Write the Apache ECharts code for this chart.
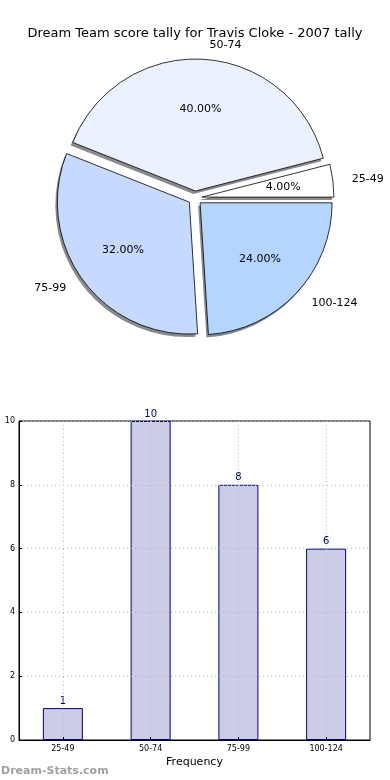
<!DOCTYPE html>
<html>
<head>
<meta charset="utf-8">
<script src="https://cdn.jsdelivr.net/npm/echarts@6/dist/echarts.min.js"></script>
<style>html,body{margin:0;padding:0;background:#fff}#c{width:390px;height:780px}</style>
</head>
<body>
<div id="c"></div>
<script>
const categories = ['25-49', '50-74', '75-99', '100-124'];
const tallyCounts = [1, 10, 8, 6];
const pieColors = ['#ffffff', '#eaf2ff', '#c6d9ff', '#b3d5ff'];
const yTicks = [0, 2, 4, 6, 8, 10];

const chart = echarts.init(document.getElementById('c'), null, {renderer: 'canvas'});
const font = 'DejaVu Sans';
const pct = p => p.percent.toFixed(2) + '%';
const R = 132;

const pieBase = {
  type: 'pie',
  center: [195, 198],
  startAngle: 0,
  clockwise: false,
  selectedMode: 'multiple',
  selectedOffset: 7,
  avoidLabelOverlap: false,
  emphasis: {disabled: true},
  animation: false
};

chart.setOption({
  animation: false,
  textStyle: {fontFamily: font},
  title: [
    {text: 'Dream Team score tally for Travis Cloke - 2007 tally', left: 'center', top: 22,
     textStyle: {fontSize: 13, fontWeight: 'normal', color: '#000', fontFamily: font}},
    {text: 'Dream-Stats.com', left: -4, top: 761,
     textStyle: {fontSize: 11, fontWeight: 'bold', color: '#a0a0a0', fontFamily: font}}
  ],
  grid: {left: 19, right: 20, top: 421, bottom: 40, show: true, borderColor: '#000', borderWidth: 1, containLabel: false},
  xAxis: {
    type: 'category', data: categories, z: 5,
    name: 'Frequency', nameLocation: 'middle', nameGap: 17,
    nameTextStyle: {fontSize: 11, color: '#000', fontFamily: font},
    axisLine: {lineStyle: {color: '#000'}},
    axisTick: {show: true, inside: true, alignWithLabel: true, length: 3, lineStyle: {color: '#000'}},
    axisLabel: {fontSize: 8, color: '#000', margin: 5},
    splitLine: {show: true, alignWithLabel: true, lineStyle: {color: '#b8b8b8', type: [1, 3]}}
  },
  yAxis: {
    type: 'value', min: 0, max: 10, interval: 2, z: 5,
    axisLine: {show: true, lineStyle: {color: '#000'}},
    axisTick: {show: true, inside: true, length: 3, lineStyle: {color: '#000'}},
    axisLabel: {fontSize: 8, color: '#000', margin: 4},
    splitLine: {show: true, lineStyle: {color: '#b8b8b8', type: [1, 3]}}
  },
  series: [
    Object.assign({}, pieBase, {
      center: [193, 201],
      radius: R,
      silent: true,
      z: 1,
      data: categories.map((c, i) => ({name: c, value: tallyCounts[i], selected: true})),
      itemStyle: {color: '#8a8a8a', borderWidth: 0},
      label: {show: false},
      labelLine: {show: false}
    }),
    Object.assign({}, pieBase, {
      radius: R,
      z: 2,
      data: categories.map((c, i) => ({name: c, value: tallyCounts[i], selected: true, itemStyle: {color: pieColors[i]}})),
      itemStyle: {borderColor: '#000', borderWidth: 0.8},
      label: {show: true, position: 'outside', formatter: '{b}', fontSize: 11, color: '#000', fontFamily: font},
      labelLine: {show: false, length: 14, length2: 0}
    }),
    Object.assign({}, pieBase, {
      radius: [Math.round(R * 0.2), R],
      silent: true,
      z: 3,
      data: categories.map((c, i) => ({name: c, value: tallyCounts[i], selected: true})),
      itemStyle: {color: 'rgba(0,0,0,0)', borderWidth: 0},
      label: {show: true, position: 'inside', formatter: pct, fontSize: 11, color: '#000', fontFamily: font},
      labelLine: {show: false}
    }),
    {
      type: 'bar', data: tallyCounts, barWidth: 40, z: 2,
      itemStyle: {color: '#cccce6', borderColor: '#000080', borderWidth: 1},
      label: {show: true, position: 'top', distance: 2, color: '#000080', fontSize: 10, fontFamily: font},
      emphasis: {disabled: true}
    }
  ]
});
</script>
</body>
</html>
